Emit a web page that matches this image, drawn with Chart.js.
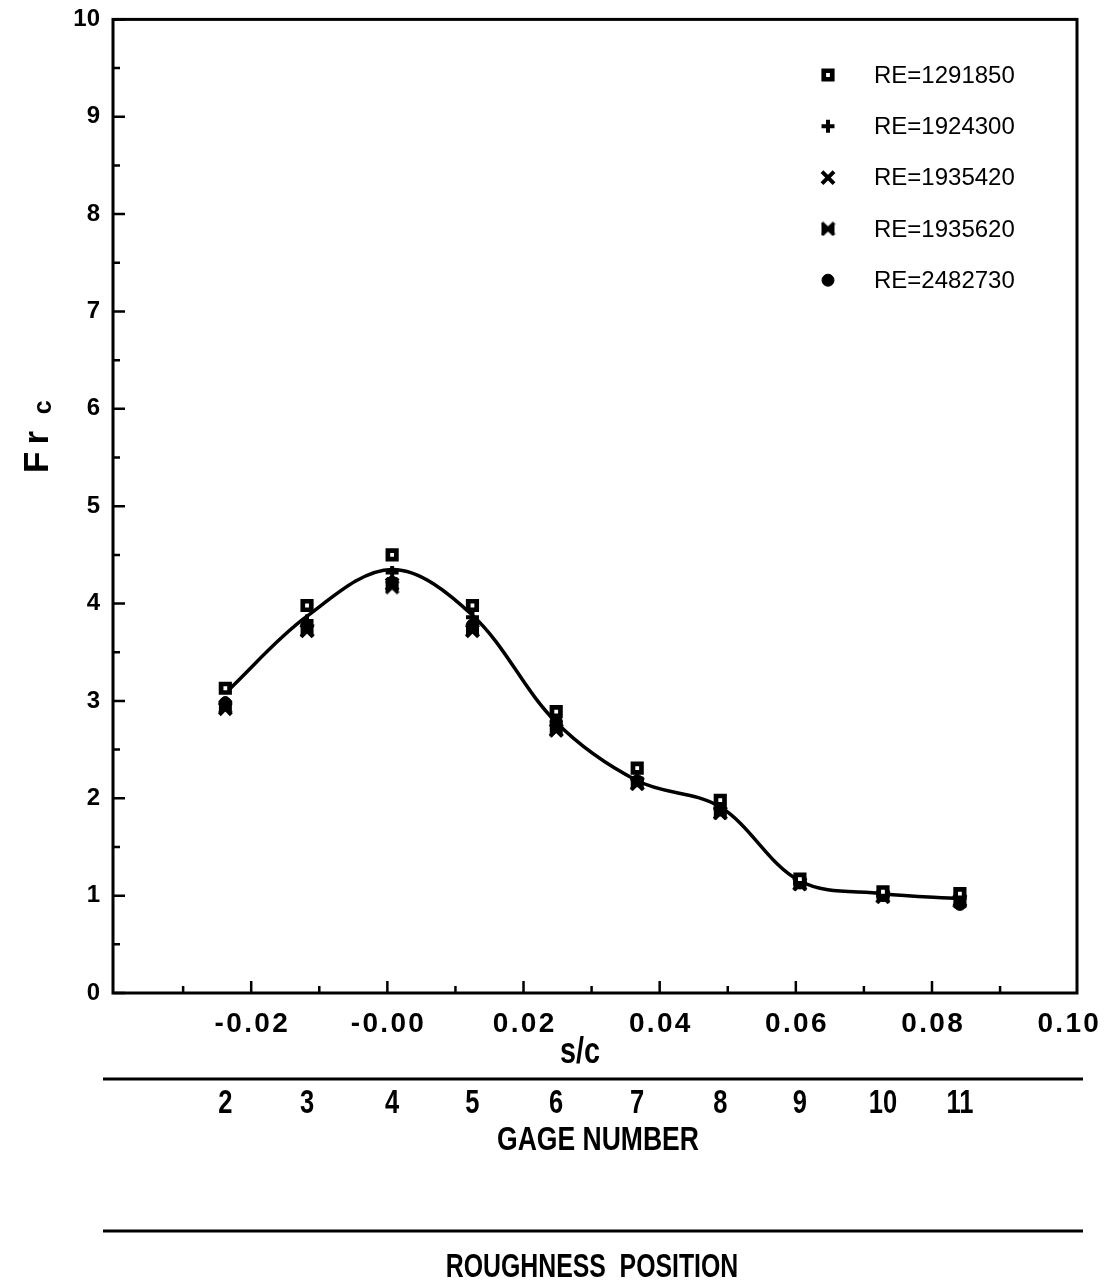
<!DOCTYPE html>
<html>
<head>
<meta charset="utf-8">
<script src="https://cdn.jsdelivr.net/npm/chart.js@4.4.0/dist/chart.umd.min.js"></script>
<style>
  html, body { margin: 0; padding: 0; background: #fff; }
</style>
</head>
<body>
<canvas id="chart1" width="1116" height="1287"></canvas>
<script>
// s/c position of each gage
const sc = [-0.0238, -0.0118, 0.0007, 0.0125, 0.0248, 0.0367, 0.0489, 0.0606, 0.0728, 0.0841];
const gageNumbers = ['2', '3', '4', '5', '6', '7', '8', '9', '10', '11'];

// Fr_c for each Reynolds number
const re1291850 = [3.13, 3.98, 4.50, 3.98, 2.89, 2.31, 1.98, 1.17, 1.04, 1.02];
const re1924300 = [2.98, 3.82, 4.32, 3.86, 2.78, 2.20, 1.89, 1.14, 1.01, 0.98];
const re1935420 = [2.92, 3.72, 4.20, 3.72, 2.70, 2.15, 1.85, 1.12, 0.99, 0.95];
const re1935620 = [2.94, 3.73, 4.17, 3.73, 2.70, 2.15, 1.85, 1.12, 0.99, 0.94];
const re2482730 = [2.98, 3.78, 4.22, 3.78, 2.79, 2.18, 1.88, 1.13, 1.00, 0.91];
// faired curve
const fit = [3.08, 3.87, 4.35, 3.88, 2.78, 2.18, 1.91, 1.15, 1.02, 0.97];

const xLabels = [-0.02, 0, 0.02, 0.04, 0.06, 0.08, 0.10];
const xMajor = [-0.02, 0, 0.02, 0.04, 0.06, 0.08];
const xMinor = [-0.03, -0.01, 0.01, 0.03, 0.05, 0.07, 0.09];
const yLabels = [0, 1, 2, 3, 4, 5, 6, 7, 8, 9, 10];
const yMinor = [0.5, 1.5, 2.5, 3.5, 4.5, 5.5, 6.5, 7.5, 8.5, 9.5];

const FONT = '"Liberation Sans", Arial, Helvetica, sans-serif';

// bowtie marker for the 4th series
function bowtie() {
  const c = document.createElement('canvas');
  c.width = 15; c.height = 15;
  const g = c.getContext('2d');
  g.fillStyle = '#000';
  g.beginPath();
  g.moveTo(1, 1); g.lineTo(7.5, 5); g.lineTo(14, 1); g.lineTo(14, 14);
  g.lineTo(7.5, 10); g.lineTo(1, 14); g.closePath();
  g.fill();
  g.strokeStyle = '#000'; g.lineWidth = 3.5;
  g.beginPath();
  g.moveTo(1.5, 1.5); g.lineTo(13.5, 13.5); g.moveTo(13.5, 1.5); g.lineTo(1.5, 13.5);
  g.stroke();
  return c;
}

const pts = arr => arr.map((v, i) => ({ x: sc[i], y: v }));

const series = [
  { label: 'RE=1291850', data: pts(re1291850), pointStyle: 'rect', pointRadius: 6, pointBorderWidth: 4.7, pointBackgroundColor: '#fff' },
  { label: 'RE=1924300', data: pts(re1924300), pointStyle: 'cross', pointRadius: 6.5, pointBorderWidth: 4, pointBackgroundColor: '#000' },
  { label: 'RE=1935420', data: pts(re1935420), pointStyle: 'crossRot', pointRadius: 8.5, pointBorderWidth: 4, pointBackgroundColor: '#000' },
  { label: 'RE=1935620', data: pts(re1935620), pointStyle: bowtie(), pointRadius: 7.5, pointBorderWidth: 0, pointBackgroundColor: '#000' },
  { label: 'RE=2482730', data: pts(re2482730), pointStyle: 'circle', pointRadius: 6, pointBorderWidth: 1, pointBackgroundColor: '#000' }
].map(d => Object.assign(d, { showLine: false, borderColor: '#000', pointBorderColor: '#000', pointHoverRadius: d.pointRadius }));

const spaced = s => s.split('').join('\u200A');

function condensed(ctx, text, cx, cy, size, sx) {
  ctx.save();
  ctx.translate(cx, cy);
  ctx.scale(sx, 1);
  ctx.font = 'bold ' + size + 'px ' + FONT;
  ctx.textAlign = 'center';
  ctx.textBaseline = 'middle';
  ctx.fillText(text, 0, 0);
  ctx.restore();
}

const frame = {
  id: 'frame',
  afterDraw(chart) {
    const { ctx, chartArea: a, scales: { x, y } } = chart;
    ctx.save();
    ctx.strokeStyle = '#000';
    ctx.fillStyle = '#000';

    // box
    ctx.lineWidth = 3;
    ctx.strokeRect(a.left, a.top, a.right - a.left, a.bottom - a.top);

    // inward ticks
    ctx.lineWidth = 2.5;
    ctx.beginPath();
    xMajor.forEach(v => { const p = x.getPixelForValue(v); ctx.moveTo(p, a.bottom); ctx.lineTo(p, a.bottom - 12); });
    xMinor.forEach(v => { const p = x.getPixelForValue(v); ctx.moveTo(p, a.bottom); ctx.lineTo(p, a.bottom - 7); });
    yLabels.forEach(v => { const p = y.getPixelForValue(v); ctx.moveTo(a.left, p); ctx.lineTo(a.left + 12, p); });
    yMinor.forEach(v => { const p = y.getPixelForValue(v); ctx.moveTo(a.left, p); ctx.lineTo(a.left + 7, p); });
    ctx.stroke();

    // y title Fr_c
    ctx.save();
    ctx.translate(48, 473);
    ctx.rotate(-Math.PI / 2);
    ctx.font = 'bold 35px ' + FONT;
    ctx.textAlign = 'left';
    ctx.textBaseline = 'alphabetic';
    ctx.fillText('F\u2009r', 0, 0);
    const w = ctx.measureText('F\u2009r\u2009 ').width;
    ctx.font = 'bold 25px ' + FONT;
    ctx.fillText('c', w, 3);
    ctx.restore();

    // legend
    chart.data.datasets.forEach((d, i) => {
      if (!d.label) return;
      const ly = 75 + i * 51.3;
      const lx = 828;
      ctx.save();
      ctx.fillStyle = d.pointBackgroundColor;
      ctx.strokeStyle = '#000';
      ctx.lineWidth = d.pointBorderWidth;
      Chart.helpers.drawPoint(ctx, { pointStyle: d.pointStyle, radius: d.pointRadius, borderWidth: d.pointBorderWidth, rotation: 0 }, lx, ly);
      ctx.restore();
      ctx.font = '24px ' + FONT;
      ctx.textAlign = 'left';
      ctx.textBaseline = 'middle';
      ctx.fillText(d.label, 874, ly + 1);
    });

    // lower captions
    condensed(ctx, 's/c', 580, 1053, 36, 0.8);
    ctx.lineWidth = 3;
    ctx.beginPath();
    ctx.moveTo(103, 1079); ctx.lineTo(1083, 1079);
    ctx.moveTo(103, 1231); ctx.lineTo(1083, 1231);
    ctx.stroke();
    gageNumbers.forEach((g, i) => condensed(ctx, g, x.getPixelForValue(sc[i]), 1104, 34, 0.75));
    condensed(ctx, 'GAGE NUMBER', 598, 1141, 34, 0.78);
    condensed(ctx, 'ROUGHNESS  POSITION', 592, 1268, 34, 0.73);
    ctx.restore();
  }
};

new Chart(document.getElementById('chart1'), {
  type: 'scatter',
  data: {
    datasets: [
      ...series,
      { label: '', data: pts(fit), showLine: true, borderColor: '#000', borderWidth: 3.5, pointRadius: 0, tension: 0.35, fill: false }
    ]
  },
  options: {
    responsive: false,
    animation: false,
    devicePixelRatio: 1,
    layout: { padding: { top: 15, right: 39, left: 0, bottom: 0 } },
    plugins: { legend: { display: false }, tooltip: { enabled: false } },
    scales: {
      x: {
        type: 'linear',
        min: -0.0403,
        max: 0.1013,
        grid: { display: false },
        border: { display: false },
        afterBuildTicks: s => { s.ticks = xLabels.map(v => ({ value: v })); },
        afterFit: s => { s.height = 294; },
        ticks: {
          autoSkip: false,
          maxRotation: 0,
          padding: 6,
          color: '#000',
          font: { family: FONT, size: 28, weight: 'bold' },
          callback: v => spaced((v <= 0 ? '-' : '') + Math.abs(v).toFixed(2))
        }
      },
      y: {
        min: 0,
        max: 10,
        grid: { display: false },
        border: { display: false },
        afterBuildTicks: s => { s.ticks = yLabels.map(v => ({ value: v })); },
        afterFit: s => { s.width = 113; },
        ticks: {
          padding: 5,
          color: '#000',
          font: { family: FONT, size: 24, weight: 'bold' }
        }
      }
    }
  },
  plugins: [frame]
});
</script>
</body>
</html>
